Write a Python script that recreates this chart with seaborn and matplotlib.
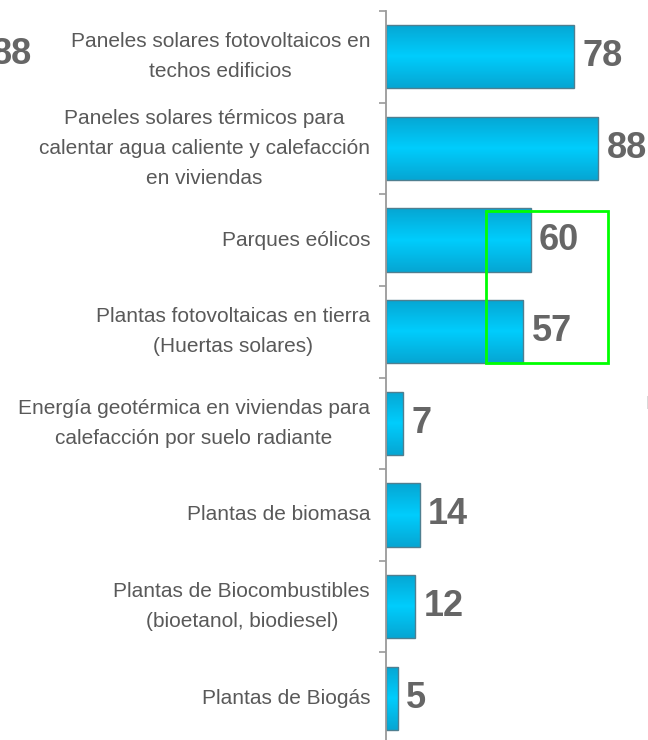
import numpy as np
import pandas as pd
import matplotlib
matplotlib.use("Agg")
import matplotlib.pyplot as plt
from matplotlib.colors import LinearSegmentedColormap
from matplotlib.patches import Rectangle
import seaborn as sns

# ── Data ──────────────────────────────────────────────────────────────────────
categorias = [
    "Paneles solares fotovoltaicos en\ntechos edificios",
    "Paneles solares térmicos para\ncalentar agua caliente y calefacción\nen viviendas",
    "Parques eólicos",
    "Plantas fotovoltaicas en tierra\n(Huertas solares)",
    "Energía geotérmica en viviendas para\ncalefacción por suelo radiante",
    "Plantas de biomasa",
    "Plantas de Biocombustibles\n(bioetanol, biodiesel)",
    "Plantas de Biogás",
]
valores = [78, 88, 60, 57, 7, 14, 12, 5]

df = pd.DataFrame({"categoria": categorias, "valor": valores})

# ── Style ─────────────────────────────────────────────────────────────────────
sns.set_theme(style="white")
plt.rcParams["font.family"] = ["Liberation Sans", "DejaVu Sans"]

TEXT_GREY = "#595959"
NUM_GREY = "#666666"
AXIS_GREY = "#9a9a9a"

W, H = 648, 740
fig = plt.figure(figsize=(W / 100, H / 100), dpi=100)
ax = fig.add_axes([386 / W, -4 / H, 262 / W, 733 / H])

sns.barplot(data=df, x="valor", y="categoria", orient="h", width=0.69,
            color="#00C4F5", edgecolor="#4f7f90", linewidth=1.0, ax=ax)

n = len(categorias)
xmax = 262 / 2.41
ax.set_xlim(0, xmax)
ax.set_ylim(n - 0.5, -0.5)

# vertical gradient inside each bar (dark edges, bright centre)
cmap = LinearSegmentedColormap.from_list("cyan", ["#06A6D3", "#00CDFD", "#06A6D3"])
grad = np.linspace(0, 1, 64).reshape(-1, 1)
for p in ax.patches:
    x0, y0 = p.get_x(), p.get_y()
    im = ax.imshow(grad, extent=[x0, x0 + p.get_width(), y0 + p.get_height(), y0],
                   aspect="auto", cmap=cmap, zorder=p.get_zorder() - 0.01,
                   interpolation="bilinear")
    im.set_clip_path(p)
    p.set_facecolor("none")
ax.set_xlim(0, xmax)
ax.set_ylim(n - 0.5, -0.5)

# value labels
ax.bar_label(ax.containers[0], labels=[str(v) for v in valores], padding=6,
             fontsize=26, fontweight="bold", color=NUM_GREY)

# axes cosmetics
for s in ["top", "right", "bottom"]:
    ax.spines[s].set_visible(False)
ax.spines["left"].set_color(AXIS_GREY)
ax.spines["left"].set_linewidth(1.3)
ax.set_xticks([])
ax.set_xlabel("")
ax.set_ylabel("")
ax.set_yticks(np.arange(-0.5, n), minor=True)
ax.tick_params(axis="y", which="major", length=0, pad=11.5, labelsize=15, labelcolor=TEXT_GREY)
ax.tick_params(axis="y", which="minor", length=5, width=1.2, color=AXIS_GREY, left=True)
for t in ax.get_yticklabels():
    t.set_multialignment("center")
    t.set_linespacing(1.75)
    t.set_verticalalignment("center")
ax.grid(False)

# stray elements present in the original slide
fig.text(32 / W, 1 - 55 / H, str(valores[1]), ha="right", va="center",
         fontsize=26, fontweight="bold", color=NUM_GREY)
fig.text(645 / W, 1 - 405 / H, "I", ha="left", va="center", fontsize=13, color=AXIS_GREY)

# green highlight box
fig.add_artist(Rectangle((486 / W, 1 - 363 / H), 122 / W, 152 / H,
                         transform=fig.transFigure, fill=False,
                         edgecolor="#00FF00", linewidth=2, zorder=10))

fig.savefig("out.png", dpi=100)
